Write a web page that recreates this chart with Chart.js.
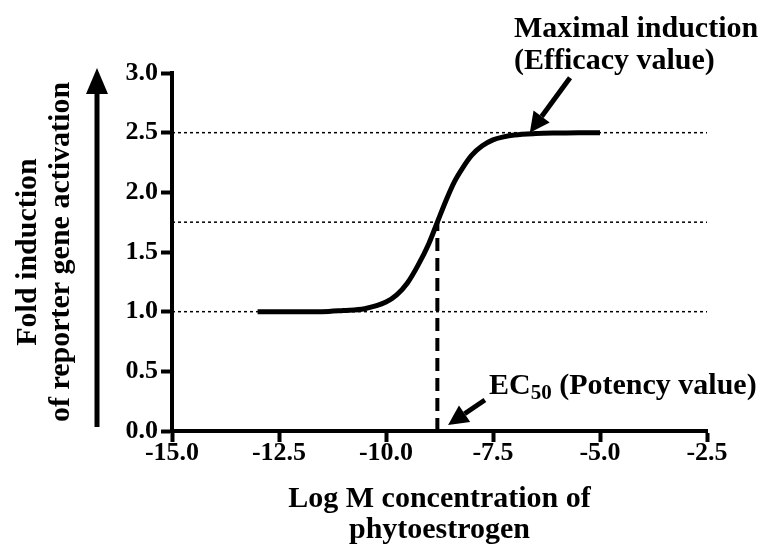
<!DOCTYPE html>
<html>
<head>
<meta charset="utf-8">
<script src="https://cdn.jsdelivr.net/npm/chart.js@4.4.1/dist/chart.umd.min.js"></script>
<style>
  html, body { margin: 0; padding: 0; background: #ffffff; }
  #wrap { width: 772px; height: 548px; position: relative; }
</style>
</head>
<body>
<div id="wrap"><canvas id="c" width="772" height="548"></canvas></div>
<script>
// ---- Data ----
const logConc = [-13, -12.5, -12, -11.5, -11, -10.5, -10, -9.75, -9.5, -9.25, -9, -8.8, -8.6, -8.4, -8.2, -8, -7.75, -7.5, -7.25, -7, -6.5, -6, -5.5, -5];
const foldInduction = [1.00, 1.00, 1.00, 1.00, 1.01, 1.025, 1.08, 1.14, 1.24, 1.39, 1.57, 1.75, 1.93, 2.09, 2.21, 2.31, 2.39, 2.44, 2.465, 2.48, 2.492, 2.497, 2.5, 2.5];
const referenceLevels = [1.0, 1.75, 2.5];
const ec50 = -8.8;
const ec50Response = 1.75;
const xRange = [-15, -2.5];
const yRange = [0, 3];
const xTickStep = 2.5;
const yTickStep = 0.5;
const yTitle = ['Fold induction', 'of reporter gene activation'];
const xTitle = ['Log M concentration of', 'phytoestrogen'];
const efficacyLabel = ['Maximal induction', '(Efficacy value)'];
const potencyLabel = 'EC';
const potencySub = '50';
const potencyRest = ' (Potency value)';
// annotation arrows in data units: [tailX, tailY, tipX, tipY]
const efficacyArrow = [-5.7, 2.96, -6.64, 2.5];
const potencyArrow = [-7.69, 0.26, -8.55, 0.05];

const FONT = "'Liberation Serif', 'Times New Roman', serif";

const curve = logConc.map((x, i) => ({ x: x, y: foldInduction[i] }));

const datasets = [];
referenceLevels.forEach(level => {
  datasets.push({
    data: [{ x: xRange[0], y: level }, { x: xRange[1], y: level }],
    borderColor: '#000', borderWidth: 1.5, borderDash: [3, 3],
    pointRadius: 0, fill: false, tension: 0, clip: false
  });
});
datasets.push({
  data: [{ x: ec50, y: yRange[0] }, { x: ec50, y: ec50Response }],
  borderColor: '#000', borderWidth: 4, borderDash: [13, 7],
  pointRadius: 0, fill: false, tension: 0
});
datasets.push({
  data: curve,
  borderColor: '#000', borderWidth: 5, pointRadius: 0, fill: false,
  cubicInterpolationMode: 'monotone', borderCapStyle: 'butt'
});

function drawArrow(ctx, x1, y1, x2, y2, shaft, headLen, headW) {
  const ang = Math.atan2(y2 - y1, x2 - x1);
  const bx = x2 - headLen * Math.cos(ang);
  const by = y2 - headLen * Math.sin(ang);
  ctx.save();
  ctx.strokeStyle = '#000';
  ctx.fillStyle = '#000';
  ctx.lineWidth = shaft;
  ctx.beginPath();
  ctx.moveTo(x1, y1);
  ctx.lineTo(bx, by);
  ctx.stroke();
  ctx.beginPath();
  ctx.moveTo(x2, y2);
  ctx.lineTo(bx + headW / 2 * Math.sin(ang), by - headW / 2 * Math.cos(ang));
  ctx.lineTo(bx - headW / 2 * Math.sin(ang), by + headW / 2 * Math.cos(ang));
  ctx.closePath();
  ctx.fill();
  ctx.restore();
}

const annotations = {
  id: 'annotations',
  afterDraw(chart) {
    const ctx = chart.ctx;
    const xs = chart.scales.x, ys = chart.scales.y;
    // big vertical arrow next to the y-axis title
    drawArrow(ctx, 97, ys.bottom - 4, 97, ys.top - 5, 5, 26, 22);
    drawArrow(ctx, xs.getPixelForValue(efficacyArrow[0]), ys.getPixelForValue(efficacyArrow[1]),
      xs.getPixelForValue(efficacyArrow[2]), ys.getPixelForValue(efficacyArrow[3]), 5, 20, 20);
    drawArrow(ctx, xs.getPixelForValue(potencyArrow[0]), ys.getPixelForValue(potencyArrow[1]),
      xs.getPixelForValue(potencyArrow[2]), ys.getPixelForValue(potencyArrow[3]), 5, 20, 20);
    ctx.save();
    ctx.fillStyle = '#000';
    ctx.textAlign = 'left';
    ctx.textBaseline = 'middle';
    ctx.font = 'bold 30px ' + FONT;
    ctx.fillText(efficacyLabel[0], 514, 29);
    ctx.fillText(efficacyLabel[1], 514, 61);
    let px = 489, py = 386;
    ctx.fillText(potencyLabel, px, py);
    px += ctx.measureText(potencyLabel).width;
    ctx.font = 'bold 21px ' + FONT;
    ctx.fillText(potencySub, px, py + 8);
    px += ctx.measureText(potencySub).width;
    ctx.font = 'bold 30px ' + FONT;
    ctx.fillText(potencyRest, px, py);
    ctx.restore();
  }
};

new Chart(document.getElementById('c'), {
  type: 'line',
  data: { datasets: datasets },
  plugins: [annotations],
  options: {
    responsive: false,
    animation: false,
    devicePixelRatio: 1,
    layout: { padding: { left: 0, top: 73, right: 65, bottom: 0 } },
    plugins: { legend: { display: false }, tooltip: { enabled: false } },
    scales: {
      x: {
        type: 'linear',
        min: xRange[0], max: xRange[1],
        afterFit(s) { s.height = 117; },
        ticks: {
          stepSize: xTickStep, color: '#000', padding: 1,
          font: { family: FONT, size: 26, weight: 'bold', lineHeight: 0.8 },
          callback: v => v.toFixed(1), maxRotation: 0, autoSkip: false
        },
        grid: { drawOnChartArea: false, drawTicks: true, tickLength: 11, tickWidth: 4, tickColor: '#000', color: '#000' },
        border: { display: true, color: '#000', width: 4 },
        title: {
          display: true, text: xTitle, color: '#000',
          font: { family: FONT, size: 30, weight: 'bold', lineHeight: 1.03 },
          padding: { top: 0, bottom: 2 }
        }
      },
      y: {
        type: 'linear',
        min: yRange[0], max: yRange[1],
        afterFit(s) { s.width = 172; },
        ticks: {
          stepSize: yTickStep, color: '#000', padding: 3,
          font: { family: FONT, size: 26, weight: 'bold' },
          callback: v => v.toFixed(1)
        },
        grid: { drawOnChartArea: false, drawTicks: true, tickLength: 11, tickWidth: 4, tickColor: '#000', color: '#000' },
        border: { display: true, color: '#000', width: 4 },
        title: {
          display: true, text: yTitle, color: '#000',
          font: { family: FONT, size: 30, weight: 'bold', lineHeight: 1.1 },
          padding: { top: 11.5, bottom: 0 }
        }
      }
    }
  }
});
</script>
</body>
</html>
